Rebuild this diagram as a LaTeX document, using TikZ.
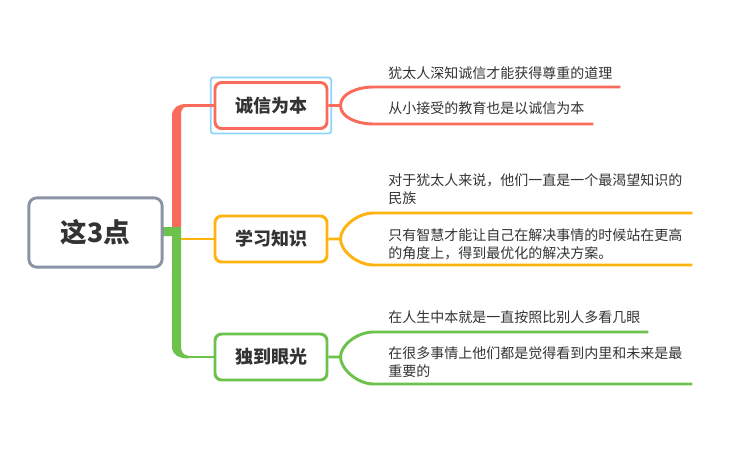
\documentclass[tikz,border=0pt]{standalone}
\usepackage{fontspec}
\setmainfont{Noto Sans CJK SC}
\usetikzlibrary{positioning}
\definecolor{MapRed}{HTML}{F96B5B}
\definecolor{MapOrange}{HTML}{FFB30F}
\definecolor{MapGreen}{HTML}{6CC24A}
\definecolor{RootGray}{HTML}{8A94A6}
\definecolor{SelBlue}{HTML}{8ED4F8}
\definecolor{InkGray}{HTML}{333333}

\begin{document}
\begin{tikzpicture}[x=0.75pt,y=-0.75pt,
    branchbox/.style={draw,line width=2.2pt,rounded corners=5pt,fill=white,minimum width=84pt,minimum height=34.5pt,
      font=\fontsize{13.5}{16}\selectfont\bfseries,text=InkGray},
    leaftext/.style={anchor=west,inner sep=0pt,align=left,font=\fontsize{10.5}{13.5}\selectfont,text=InkGray},
    leafline/.style={line width=2.2pt}]
  \useasboundingbox (0,0) rectangle (749,460);
  % trunk of the map
  \fill[MapRed] (172,227) -- (172,116) .. controls +(0,-8) and +(-8,0) .. (186,104)
    -- (186,107) .. controls +(-4,0) and +(0,-5) .. (181,116) -- (181,227) -- cycle;
  \fill[MapGreen] (163,227) -- (181,227) -- (181,347) .. controls +(0,5) and +(-4,0) .. (188,355.5)
    -- (188,358.5) .. controls +(-8,0) and +(0,8) .. (172,347) -- (172,236) -- (163,236) -- cycle;

  \node[draw=RootGray,line width=2.2pt,rounded corners=6pt,fill=white,minimum width=100pt,minimum height=52pt,
    font=\fontsize{20}{24}\selectfont\bfseries,text=InkGray] (root) at (95.5,232.5) {这3点};

  \node[branchbox,draw=MapRed] (honest) at (271,105.5) {诚信为本};
  \node[draw=SelBlue,line width=1.3pt,rounded corners=2pt,minimum width=90.5pt,minimum height=42pt] (sel) at (honest) {};
  \node[branchbox,draw=MapOrange] (learn) at (271,239) {学习知识};
  \node[branchbox,draw=MapGreen] (vision) at (271,357) {独到眼光};

  \draw[leafline,MapRed] (185,105.5) -- (honest.west);
  \draw[leafline,MapOrange] (181,239) -- (learn.west);
  \draw[leafline,MapGreen] (187,357) -- (vision.west);

  % forks to the leaves
  \foreach \br/\col/\ua/\da/\la/\lb in {honest/MapRed/18.5/18.5/247/220,learn/MapOrange/26/26/319/319,vision/MapGreen/25/27/275/319}{
    \draw[leafline,\col] (\br.east) -- ++(12,0) coordinate (fk\br)
      .. controls +(0,-12) and +(-16,0) .. ++(33,-\ua) -- ++(\la,0);
    \draw[leafline,\col] (fk\br) .. controls +(0,12) and +(-16,0) .. ++(33,\da) -- ++(\lb,0);
  }

  \node[leaftext] (honestA) at (388,73) {犹太人深知诚信才能获得尊重的道理};
  \node[leaftext] (honestB) at (388,108) {从小接受的教育也是以诚信为本};
  \node[leaftext] (learnA) at (388,189) {对于犹太人来说，他们一直是一个最渴望知识的\\民族};
  \node[leaftext] (learnB) at (388,244) {只有智慧才能让自己在解决事情的时候站在更高\\的角度上，得到最优化的解决方案。};
  \node[leaftext] (visionA) at (388,317) {在人生中本就是一直按照比别人多看几眼};
  \node[leaftext] (visionB) at (388,362.5) {在很多事情上他们都是觉得看到内里和未来是最\\重要的};
\end{tikzpicture}
\end{document}
